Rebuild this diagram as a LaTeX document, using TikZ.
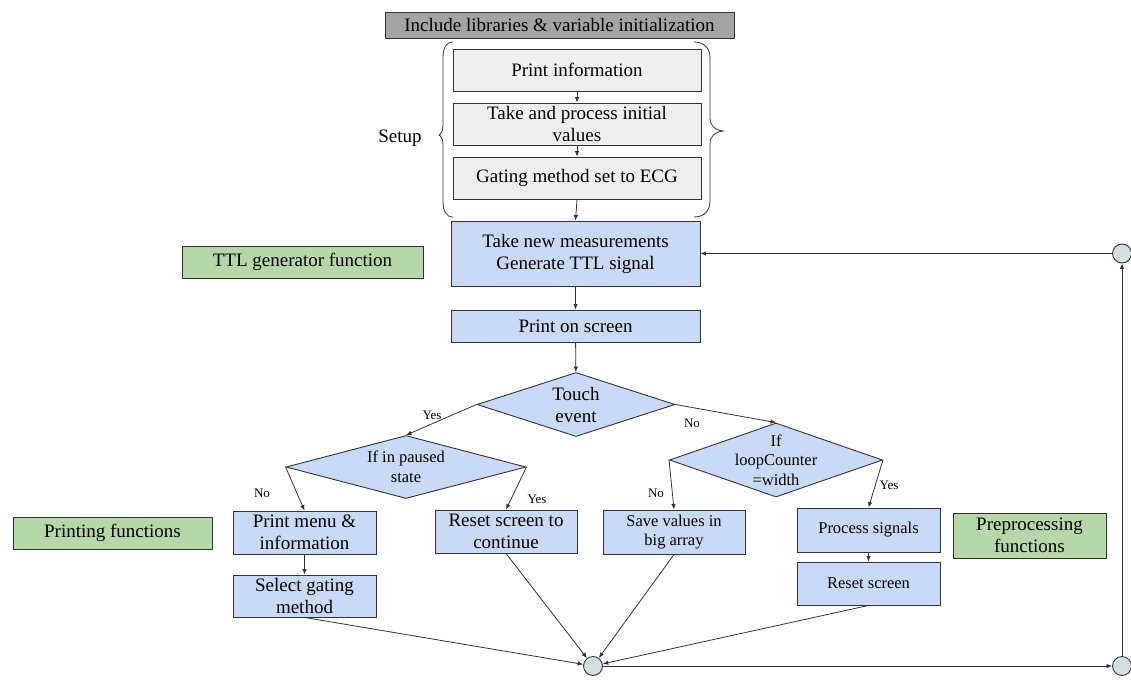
\documentclass[tikz,border=0pt]{standalone}
\usepackage{fontspec}
\setmainfont{Liberation Serif}
\newfontfamily\flowserif{Liberation Serif}
\usepackage{tikz}
\usetikzlibrary{shapes.geometric,arrows.meta}
\usepackage{xcolor}
\definecolor{flowblue}{HTML}{C9DAF8}
\definecolor{setupgray}{HTML}{EFEFEF}
\definecolor{headgray}{HTML}{A4A4A4}
\definecolor{notegreen}{HTML}{B6D7A8}
\definecolor{joincyan}{HTML}{D0E0E3}
\definecolor{edge}{HTML}{333333}
\tikzset{
	bigfont/.style={font=\flowserif\fontsize{19}{22}\selectfont},
	midfont/.style={font=\flowserif\fontsize{16.5}{19.5}\selectfont},
	lbl/.style={font=\flowserif\fontsize{13}{15}\selectfont},
	box/.style={draw=edge, line width=0.9pt, inner sep=0pt, align=center},
	setupbox/.style={box, bigfont, fill=setupgray, minimum width=248, minimum height=42},
	flowbox/.style={box, fill=flowblue},
	notebox/.style={box, bigfont, fill=notegreen},
	decision/.style={diamond, draw=edge, line width=0.9pt, fill=flowblue, inner sep=0pt},
	joint/.style={circle, draw=edge, line width=0.9pt, fill=joincyan, minimum size=19, inner sep=0pt},
	link/.style={->, edge, line width=0.8pt},
	>={Latex[length=5.5pt,width=4.5pt]}
}

\begin{document}
\begin{tikzpicture}[x=1pt, y=-1pt]
	\useasboundingbox (0,0) rectangle (1131,680);

	\node[box, bigfont, fill=headgray, minimum width=349, minimum height=26] (libs) at (559.5,25) {Include libraries \& variable initialization};
	\node[setupbox] (info) at (577,70) {Print information};
	\node[setupbox] (initval) at (577,124) {Take and process initial\\values};
	\node[setupbox] (gating) at (577,178) {Gating method set to ECG};
	\draw[edge, line width=0.8pt] (453,42) .. controls (446,42) and (443,48) .. (443,58) -- (443,125) .. controls (443,131) and (441,134) .. (439,135) .. controls (441,136) and (443,139) .. (443,145) -- (443,201) .. controls (443,211) and (446,217) .. (453,217);
	\draw[edge, line width=0.8pt] (694,42) .. controls (704,42) and (710,48) .. (710,58) -- (710,118) .. controls (710,126) and (715,130) .. (723,131) .. controls (715,132) and (710,136) .. (710,144) -- (710,201) .. controls (710,211) and (704,217) .. (694,217);
	\node[bigfont] (setup) at (400,138) {Setup};

	\node[flowbox, bigfont, minimum width=249, minimum height=65] (measure) at (575.5,253.5) {Take new measurements\\Generate TTL signal};
	\node[flowbox, bigfont, minimum width=249, minimum height=32] (screen) at (575.5,326) {Print on screen};
	\node[decision, minimum width=198, minimum height=64] (touch) at (576,404.5) {};
	\node[bigfont, align=center] (touchtxt) at (touch) {Touch\\event};
	\node[decision, minimum width=240, minimum height=63] (paused) at (406,467) {};
	\node[midfont, align=center] (pausedtxt) at (paused) {If in paused\\state};
	\node[decision, minimum width=213, minimum height=74] (loop) at (776,460) {};
	\node[midfont, align=center] (looptxt) at (loop) {If\\loopCounter\\=width};

	\node[flowbox, bigfont, minimum width=143, minimum height=43] (menu) at (304.5,532.5) {Print menu \&\\information};
	\node[flowbox, bigfont, minimum width=143, minimum height=42] (select) at (304.5,596) {Select gating\\method};
	\node[flowbox, bigfont, minimum width=142, minimum height=43] (resetcont) at (506,531.5) {Reset screen to\\continue};
	\node[flowbox, midfont, minimum width=142, minimum height=44] (save) at (674,532) {Save values in\\big array};
	\node[flowbox, midfont, minimum width=143, minimum height=44] (process) at (868.5,530) {Process signals};
	\node[flowbox, midfont, minimum width=143, minimum height=43] (resetscr) at (868.5,583.5) {Reset screen};

	\node[notebox, minimum width=241, minimum height=32] (ttlnote) at (302.5,262) {TTL generator function};
	\node[notebox, minimum width=199, minimum height=32] (printnote) at (112.5,533) {Printing functions};
	\node[notebox, minimum width=153, minimum height=45] (prepnote) at (1029.5,535.5) {Preprocessing\\functions};

	\node[joint] (joinA) at (593,666) {};
	\node[joint] (joinB) at (1122,666) {};
	\node[joint] (joinC) at (1122,253.5) {};

	\draw[link] (info) -- (initval);
	\draw[link] (initval) -- (gating);
	\draw[link] (gating.south) -- (measure.north);
	\draw[link] (measure) -- (screen);
	\draw[link] (screen) -- (touch);
	\draw[link] (touch.west) -- (paused.north);
	\draw[link] (touch.east) -- (loop.north);
	\draw[link] (paused.west) -- (menu.north);
	\draw[link] (paused.east) -- (resetcont.north);
	\draw[link] (menu) -- (select);
	\draw[link] (loop.west) -- (save.north);
	\draw[link] (loop.east) -- (process.north);
	\draw[link] (process) -- (resetscr);
	\draw[link] (select.south) -- (joinA);
	\draw[link] (resetcont.south) -- (joinA);
	\draw[link] (save.south) -- (joinA);
	\draw[link] (resetscr.south) -- (joinA);
	\draw[link] (joinA) -- (joinB);
	\draw[link] (joinB) -- (joinC);
	\draw[link] (joinC) -- (measure);

	\node[lbl] (yesA) at (432,415) {Yes};
	\node[lbl] (noA) at (692,423) {No};
	\node[lbl] (noB) at (262,493) {No};
	\node[lbl] (yesB) at (537,499) {Yes};
	\node[lbl] (noC) at (656,493) {No};
	\node[lbl] (yesC) at (889,485) {Yes};

\end{tikzpicture}
\end{document}
